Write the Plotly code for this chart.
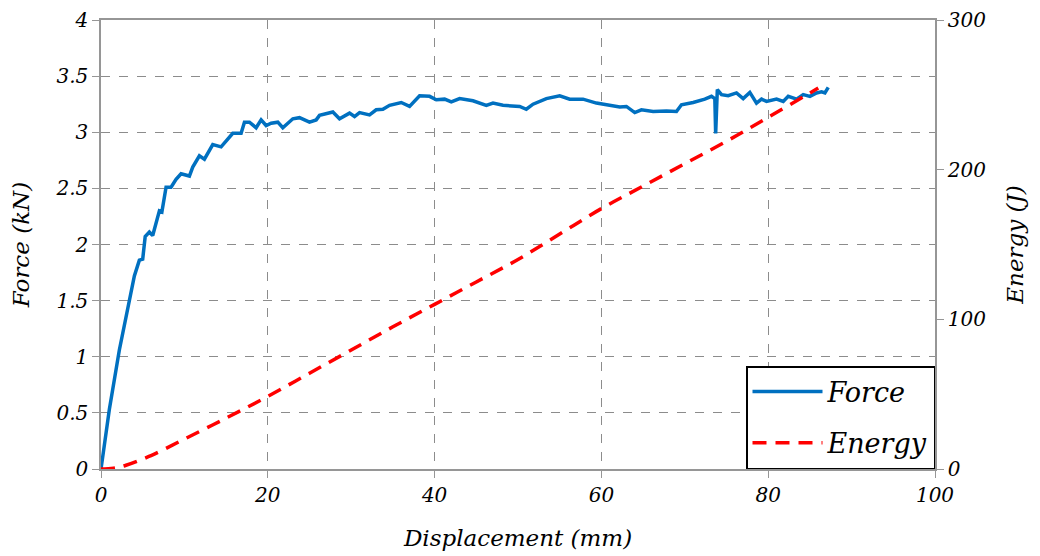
import plotly.graph_objects as go

disp_force = [0, 1.0, 2.2, 3.4, 4.0, 4.6, 5.0, 5.3, 5.8, 6.2, 7.0, 7.3, 7.8, 8.4, 9.0, 9.6, 10.6, 11.0,
              11.8, 12.4, 13.4, 14.4, 15.8, 16.8, 17.2, 17.8, 18.6, 19.2, 19.8, 20.4, 21.2, 21.8, 23.0,
              23.8, 25.0, 25.8, 26.2, 27.8, 28.6, 29.8, 30.4, 31.0, 32.2, 33.0, 33.8, 34.6, 36.0, 37.0,
              38.2, 39.4, 40.2, 41.2, 42.0, 43.0, 44.6, 46.2, 47.0, 48.2, 49.4, 50.2, 51.0, 51.8, 53.4,
              55.0, 56.2, 57.8, 59.4, 60.6, 62.2, 63.0, 64.0, 64.8, 66.2, 67.8, 69.0, 69.6, 71.0, 72.4,
              73.2, 73.6, 73.7, 73.9, 74.4, 75.2, 76.2, 77.0, 77.8, 78.6, 79.2, 79.8, 81.0, 81.8, 82.4,
              83.4, 84.2, 85.0, 85.8, 86.4, 86.8, 87.2]
force_kN = [0, 0.53, 1.06, 1.50, 1.72, 1.86, 1.87, 2.07, 2.11, 2.08, 2.30, 2.29, 2.51, 2.51, 2.58, 2.63,
            2.61, 2.69, 2.79, 2.76, 2.89, 2.87, 2.99, 2.99, 3.09, 3.09, 3.04, 3.11, 3.06, 3.08, 3.09,
            3.04, 3.12, 3.13, 3.09, 3.11, 3.15, 3.18, 3.12, 3.17, 3.14, 3.175, 3.155, 3.20, 3.205, 3.24,
            3.265, 3.23, 3.325, 3.32, 3.29, 3.295, 3.27, 3.30, 3.28, 3.24, 3.26, 3.24, 3.235, 3.23,
            3.205, 3.25, 3.30, 3.325, 3.295, 3.295, 3.26, 3.245, 3.225, 3.23, 3.175, 3.20, 3.185, 3.19,
            3.185, 3.245, 3.265, 3.295, 3.32, 3.30, 2.99, 3.38, 3.335, 3.325, 3.35, 3.30, 3.355, 3.26,
            3.295, 3.275, 3.295, 3.275, 3.32, 3.295, 3.335, 3.32, 3.35, 3.36, 3.35, 3.40]

disp_energy = [0, 1.5, 3, 6, 10, 15, 20, 25, 30, 35, 40, 45, 50, 55, 60, 65, 70, 75, 80, 86]
energy_J = [0, 0.5, 2.5, 9, 20, 34, 48.5, 64, 79.5, 95, 110, 125, 140, 157, 174, 189, 204, 219, 235, 254.5]

x_ticks = [0, 20, 40, 60, 80, 100]
force_ticks = [0, 0.5, 1, 1.5, 2, 2.5, 3, 3.5, 4]
energy_ticks = [0, 100, 200, 300]

FONT = "DejaVu Serif, Noto Serif, serif"
grid = "rgb(140,140,140)"
axis_gray = "rgb(150,150,150)"

fig = go.Figure()
fig.add_trace(go.Scatter(x=disp_force, y=force_kN, mode="lines", name="Force", legendgroup="f",
                         line=dict(color="rgb(0,112,192)", width=3.5)))
fig.add_trace(go.Scatter(x=disp_energy, y=energy_J, mode="lines", name="Energy", yaxis="y2",
                         legendgroup="e",
                         line=dict(color="rgb(255,0,0)", width=3.5, dash="14px,9px", shape="spline")))

tickfont = dict(family=FONT, size=20, color="black", style="italic")
titlefont = dict(family=FONT, size=23, color="black", style="italic")
fig.update_layout(
    width=1040, height=556,
    margin=dict(l=93, r=113, t=12, b=95),
    plot_bgcolor="white", paper_bgcolor="white",
    font=dict(family=FONT, color="black"),
    xaxis=dict(range=[0, 100], tickvals=x_ticks, ticktext=[str(v) for v in x_ticks],
               tickfont=tickfont, showgrid=True, gridcolor=grid, griddash="dash", gridwidth=1,
               showline=True, linecolor=axis_gray, linewidth=1.5, mirror=True,
               ticks="outside", ticklen=7, tickcolor=axis_gray, zeroline=False, automargin=False,
               title=dict(text="Displacement (mm)", font=titlefont, standoff=24)),
    yaxis=dict(range=[0, 4], tickvals=force_ticks, ticktext=[f"{v:g}" for v in force_ticks],
               tickfont=tickfont, showgrid=True, gridcolor=grid, griddash="dash", gridwidth=1,
               showline=True, linecolor=axis_gray, linewidth=1.5,
               ticks="outside", ticklen=7, tickcolor=axis_gray, zeroline=False, automargin=False,
               title=dict(text="Force (kN)", font=titlefont, standoff=19)),
    yaxis2=dict(range=[0, 300], tickvals=energy_ticks, ticktext=[str(v) for v in energy_ticks],
                tickfont=tickfont, overlaying="y", side="right", showgrid=False,
                showline=True, linecolor=axis_gray, linewidth=1.5,
                ticks="outside", ticklen=7, tickcolor=axis_gray, zeroline=False, automargin=False,
                title=dict(text="Energy (J)", font=titlefont, standoff=22)),
    legend=dict(x=1, y=0, xanchor="right", yanchor="bottom", bgcolor="white",
                bordercolor="black", borderwidth=1.5,
                font=dict(family=FONT, size=27, style="italic"),
                tracegroupgap=13, itemwidth=70),
    showlegend=True,
)

fig.write_html("out.html")
